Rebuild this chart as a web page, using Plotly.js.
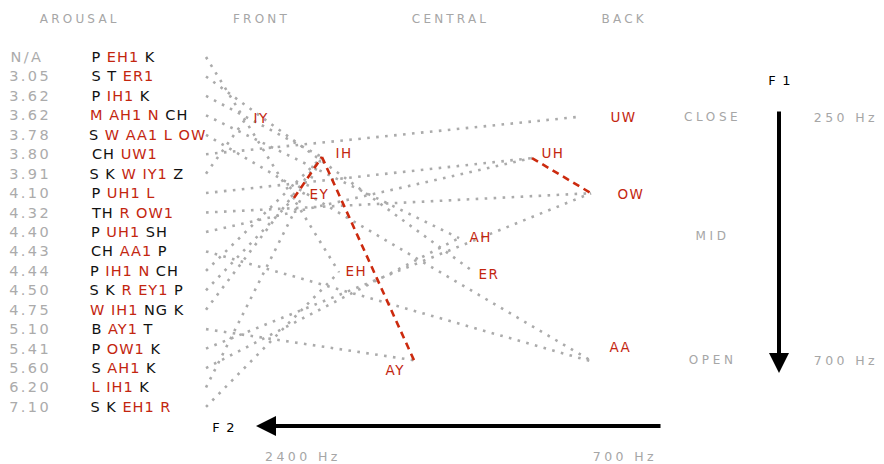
<!DOCTYPE html>
<html><head><meta charset="utf-8">
<script src="https://cdn.plot.ly/plotly-3.0.1.min.js"></script>
<style>html,body{margin:0;padding:0;background:#fff;}</style>
</head><body><div id="chart" style="width:884px;height:464px;"></div>
<script>
// ---------- data ----------
const arousal = ["N/A","3.05","3.62","3.62","3.78","3.80","3.91","4.10","4.32","4.40","4.43","4.44","4.50","4.75","5.10","5.41","5.60","6.20","7.10"];
const words = ["P EH1 K","S T ER1","P IH1 K","M AH1 N CH","S W AA1 L OW","CH UW1","S K W IY1 Z","P UH1 L","TH R OW1","P UH1 SH","CH AA1 P","P IH1 N CH","S K R EY1 P","W IH1 NG K","B AY1 T","P OW1 K","S AH1 K","L IH1 K","S K EH1 R"];
const vowels  = ["IY","IH","EY","EH","AY","AH","ER","UW","UH","OW","AA"];
const vowelF2 = [2700,2300,2448,2210,1814,1576,1497,953,1191,879,869];
const vowelF1 = [252,324,400,537,700,474,537,250,326,391,703];
const diphthongs = [["EY","IH"],["IH","AY"],["UH","OW"]];
const sonorants = ["W","L","R","M","N"];
const headers = ["AROUSAL","FRONT","CENTRAL","BACK"];
const f1Ticks = [250,700];
const f1TickText = ["250 Hz","700 Hz"];
const heightLabels = ["CLOSE","MID","OPEN"];
const heightF1 = [250,470,700];
const f2Ticks = [2400,700];
const f2TickText = ["2400 Hz","700 Hz"];

// ---------- layout constants ----------
const W = 884, H = 464;
const PXX = 5.28, PXY = 1.85;
const fx = px => 2400 - (px - 303) * PXX;
const fy = py => 250 + (py - 117) * PXY;
const rowF1 = i => fy(57 + i * 19.44);
const GRAY = "#a6a6a6", RED = "#c3260f", BLACK = "#111111";
const FONT = "DejaVu Sans";
const labelShift = {IY:[15,0],IH:[22,-4],EY:[26,-4],EH:[18,-1],AY:[-18,10],AH:[21,-1],ER:[15,2],UW:[46,0],UH:[21,-5],OW:[40,1],AA:[28,-15]};
const headerX = [80,262,451,625];

const traces = [];
const anns = [];
const spacing = [];
function ann(a, ls){ anns.push(a); spacing.push(ls); }

// word -> stressed vowel lines
words.forEach((w,i) => {
  const tok = w.split(" ").find(t => /1$/.test(t));
  const v = vowels.indexOf(tok.replace(/\d/g,""));
  traces.push({x:[fx(206), vowelF2[v]], y:[rowF1(i), vowelF1[v]], mode:"lines",
    line:{color:"#ababab", width:2.6, dash:"2.6px,6.4px"}, hoverinfo:"skip"});
});
// diphthong glides
diphthongs.forEach(([a,b]) => {
  const ia = vowels.indexOf(a), ib = vowels.indexOf(b);
  traces.push({x:[vowelF2[ia], vowelF2[ib]], y:[vowelF1[ia], vowelF1[ib]], mode:"lines",
    line:{color:"#cc2a0e", width:2.6, dash:"7px,5px"}, hoverinfo:"skip"});
});

// headers
headers.forEach((h,i) => ann({text:h, xref:"paper", yref:"paper", x:headerX[i]/W, y:1-19/H,
  xanchor:"center", yanchor:"middle", showarrow:false, font:{family:FONT, size:12, color:GRAY}}, 3.2));

// left columns
arousal.forEach((a,i) => ann({text:a, xref:"paper", yref:"y", x:12/W, y:rowF1(i),
  xanchor:"left", yanchor:"middle", showarrow:false, font:{family:FONT, size:14.5, color:"#ababab"}}, 2.4));
words.forEach((w,i) => {
  const html = w.split(" ").map(t => {
    const base = t.replace(/\d/g,"");
    const red = vowels.includes(base) || sonorants.includes(base);
    return red ? `<span style="color:${RED}">${t}</span>` : t;
  }).join(" ");
  ann({text:html, xref:"paper", yref:"y", x:93/W, y:rowF1(i), xanchor:"left", yanchor:"middle",
    showarrow:false, font:{family:FONT, size:14.5, color:BLACK}}, 1.0);
});

// vowel labels
vowels.forEach((v,i) => ann({text:v, xref:"x", yref:"y", x:vowelF2[i], y:vowelF1[i],
  xshift:labelShift[v][0], yshift:-labelShift[v][1], xanchor:"center", yanchor:"middle",
  showarrow:false, font:{family:FONT, size:13.5, color:RED}}, 1.4));

// F1 side labels
heightLabels.forEach((t,i) => ann({text:t, xref:"paper", yref:"y", x:712/W, y:heightF1[i],
  xanchor:"center", yanchor:"middle", showarrow:false, font:{family:FONT, size:12, color:GRAY}}, 3.6));
f1TickText.forEach((t,i) => ann({text:t, xref:"paper", yref:"y", x:846/W, y:f1Ticks[i],
  xanchor:"center", yanchor:"middle", showarrow:false, font:{family:FONT, size:12.5, color:GRAY}}, 3.4));
f2TickText.forEach((t,i) => ann({text:t, xref:"x", yref:"paper", x:f2Ticks[i], y:1-456/H,
  xanchor:"center", yanchor:"middle", showarrow:false, font:{family:FONT, size:12.5, color:GRAY}}, 3.4));

// axis arrows and titles
ann({text:"", xref:"paper", yref:"paper", x:256/W, y:1-426/H, ax:406, ay:0, showarrow:true,
  arrowhead:2, arrowsize:1, arrowwidth:4, arrowcolor:"#000", standoff:0}, 0);
ann({text:"", xref:"paper", yref:"paper", x:779/W, y:1-373/H, ax:0, ay:-263, showarrow:true,
  arrowhead:2, arrowsize:1, arrowwidth:4, arrowcolor:"#000", standoff:0}, 0);
ann({text:"F 2", xref:"paper", yref:"paper", x:224/W, y:1-427/H, xanchor:"center", yanchor:"middle",
  showarrow:false, font:{family:FONT, size:13, color:"#000"}}, 1.2);
ann({text:"F 1", xref:"paper", yref:"paper", x:780/W, y:1-80/H, xanchor:"center", yanchor:"middle",
  showarrow:false, font:{family:FONT, size:13, color:"#000"}}, 1.2);

// letter spacing per annotation
const css = spacing.map((s,i) => `#chart g.annotation[data-index="${i}"] text{letter-spacing:${s}px}`).join("\n");
const st = document.createElement("style"); st.textContent = css; document.head.appendChild(st);

const layout = {
  width:W, height:H, margin:{l:0,r:0,t:0,b:0}, paper_bgcolor:"#fff", plot_bgcolor:"#fff",
  showlegend:false, hovermode:false,
  xaxis:{range:[fx(0), fx(W)], visible:false, fixedrange:true},
  yaxis:{range:[fy(H), fy(0)], visible:false, fixedrange:true},
  annotations:anns
};
Plotly.newPlot("chart", traces, layout, {staticPlot:true, displayModeBar:false});
</script></body></html>
